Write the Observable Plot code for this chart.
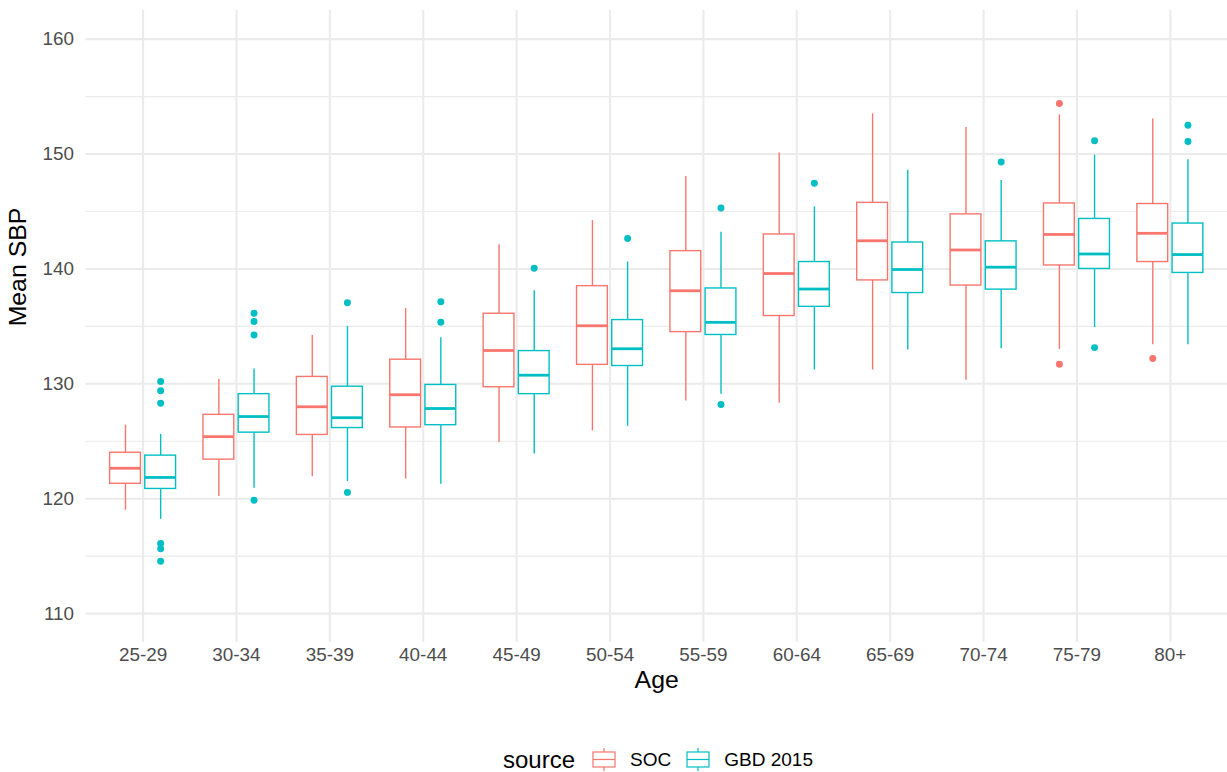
<!DOCTYPE html>
<html>
<head>
<meta charset="utf-8">
<script src="https://cdn.jsdelivr.net/npm/d3@7"></script>
<script src="https://cdn.jsdelivr.net/npm/@observablehq/plot@0.6"></script>
<style>
  html, body { margin: 0; padding: 0; background: white; overflow: hidden; width: 1227px; height: 772px; }
  body { font-family: "Liberation Sans", Arial, Helvetica, sans-serif; position: relative; }
  #legend { position: absolute; left: 503px; top: 745px; height: 30px; display: flex; align-items: center; white-space: nowrap; }
  #legend .title { font-size: 24px; color: #000; margin-right: 17px; }
  #legend .lab { font-size: 19px; color: #000; margin-left: 14px; margin-right: 15px; }
  #legend svg { display: block; }
</style>
</head>
<body>
<div id="chart"></div>
<div id="legend"></div>
<script>
// ---- data ----
const ages = ["25-29","30-34","35-39","40-44","45-49","50-54","55-59","60-64","65-69","70-74","75-79","80+"];
const sources = ["SOC", "GBD 2015"];
const colors = ["#F8766D", "#00BFC4"];

const socLow  = [119.0, 120.2, 121.9, 121.7, 124.9, 125.9, 128.5, 128.3, 131.2, 130.3, 133.0, 133.4];
const socQ1   = [121.3, 123.4, 125.55, 126.2, 129.7, 131.65, 134.5, 135.9, 139.0, 138.55, 140.3, 140.6];
const socMed  = [122.65, 125.4, 128.0, 129.05, 132.9, 135.05, 138.1, 139.6, 142.45, 141.65, 143.0, 143.1];
const socQ3   = [124.0, 127.3, 130.6, 132.1, 136.1, 138.5, 141.55, 143.0, 145.75, 144.75, 145.7, 145.65];
const socHigh = [126.4, 130.4, 134.2, 136.55, 142.1, 144.2, 148.05, 150.1, 153.5, 152.3, 153.4, 153.05];
const socOutliers = [["75-79", 154.4], ["75-79", 131.7], ["80+", 132.2]];

const gbdLow  = [118.2, 120.9, 121.5, 121.25, 123.9, 126.3, 129.1, 131.2, 132.95, 133.05, 134.9, 133.4];
const gbdQ1   = [120.85, 125.75, 126.15, 126.4, 129.1, 131.55, 134.25, 136.7, 137.9, 138.2, 140.0, 139.65];
const gbdMed  = [121.85, 127.15, 127.05, 127.85, 130.75, 133.05, 135.35, 138.25, 139.95, 140.15, 141.3, 141.25];
const gbdQ3   = [123.75, 129.1, 129.75, 129.9, 132.85, 135.55, 138.3, 140.6, 142.3, 142.4, 144.35, 143.95];
const gbdHigh = [125.6, 131.3, 135.0, 134.0, 138.1, 140.6, 143.2, 145.4, 148.6, 147.7, 149.9, 149.5];
const gbdOutliers = [
  ["25-29", 130.2], ["25-29", 129.4], ["25-29", 128.3], ["25-29", 116.1], ["25-29", 115.65], ["25-29", 114.55],
  ["30-34", 136.15], ["30-34", 135.43], ["30-34", 134.25], ["30-34", 119.86],
  ["35-39", 137.05], ["35-39", 120.55],
  ["40-44", 137.15], ["40-44", 135.35],
  ["45-49", 140.05],
  ["50-54", 142.65],
  ["55-59", 145.3], ["55-59", 128.2],
  ["60-64", 147.45],
  ["70-74", 149.3],
  ["75-79", 151.15], ["75-79", 133.15],
  ["80+", 152.5], ["80+", 151.1]
];

const yTicks = [110, 120, 130, 140, 150, 160];
const yMinor = [115, 125, 135, 145, 155];

// ---- build tables ----
function rows(lo, q1, med, q3, hi) {
  return ages.map((a, i) => ({age: a, lo: lo[i], q1: q1[i], med: med[i], q3: q3[i], hi: hi[i]}));
}
const series = [
  {rows: rows(socLow, socQ1, socMed, socQ3, socHigh), out: socOutliers.map(([age, v]) => ({age, v})), color: colors[0], dx: -17.7},
  {rows: rows(gbdLow, gbdQ1, gbdMed, gbdQ3, gbdHigh), out: gbdOutliers.map(([age, v]) => ({age, v})), color: colors[1], dx: 17.7}
];

const grid = "#EBEBEB";
const marks = [
  Plot.ruleY(yMinor, {y: d => d, stroke: grid, strokeWidth: 1.1}),
  Plot.ruleY(yTicks, {y: d => d, stroke: grid, strokeWidth: 2.1}),
  Plot.ruleX(ages, {x: d => d, stroke: grid, strokeWidth: 2.1})
];
for (const s of series) {
  marks.push(
    Plot.ruleX(s.rows, {x: "age", y1: "lo", y2: "q1", stroke: s.color, strokeWidth: 1.4, dx: s.dx}),
    Plot.ruleX(s.rows, {x: "age", y1: "q3", y2: "hi", stroke: s.color, strokeWidth: 1.4, dx: s.dx}),
    Plot.barY(s.rows, {x: "age", y1: "q1", y2: "q3", fill: "white", stroke: s.color, strokeWidth: 1.4, dx: s.dx}),
    Plot.tickY(s.rows, {x: "age", y: "med", stroke: s.color, strokeWidth: 2.8, dx: s.dx}),
    Plot.dot(s.out, {x: "age", y: "v", r: 3.5, fill: s.color, stroke: "none", dx: s.dx})
  );
}
marks.push(
  Plot.text(ages, {x: d => d, text: d => d, frameAnchor: "bottom", dy: 19, fill: "#4D4D4D", fontSize: 19}),
  Plot.text(yTicks, {y: d => d, text: d => String(d), frameAnchor: "left", dx: -12, textAnchor: "end", fill: "#4D4D4D", fontSize: 19}),
  Plot.text(["Age"], {text: d => d, frameAnchor: "bottom", dy: 46, fill: "black", fontSize: 25}),
  Plot.text(["Mean SBP"], {text: d => d, frameAnchor: "left", dx: -68.5, rotate: -90, fill: "black", fontSize: 25})
);

const chart = Plot.plot({
  width: 1235,
  height: 715,
  marginLeft: 86,
  marginRight: 0,
  marginTop: 10,
  marginBottom: 69,
  style: {fontFamily: "'Liberation Sans', Arial, Helvetica, sans-serif", background: "white", overflow: "visible"},
  x: {type: "band", domain: ages, paddingInner: 0.6655, paddingOuter: 0.43275, align: 0.5, axis: null},
  y: {domain: [107.5, 162.5], axis: null},
  marks
});
document.getElementById("chart").appendChild(chart);

// ---- legend ----
function keySvg(color) {
  return `<svg width="24" height="24" viewBox="0 0 24 24">
    <line x1="12" y1="0" x2="12" y2="4" stroke="${color}" stroke-width="1.2"/>
    <line x1="12" y1="19" x2="12" y2="23" stroke="${color}" stroke-width="1.2"/>
    <rect x="1" y="4" width="22" height="15" fill="white" stroke="${color}" stroke-width="1.2"/>
    <line x1="1" y1="11.5" x2="23" y2="11.5" stroke="${color}" stroke-width="1.2"/>
  </svg>`;
}
const leg = document.getElementById("legend");
let html = `<span class="title">source</span>`;
sources.forEach((s, i) => { html += keySvg(colors[i]) + `<span class="lab">${s}</span>`; });
leg.innerHTML = html;
</script>
</body>
</html>
